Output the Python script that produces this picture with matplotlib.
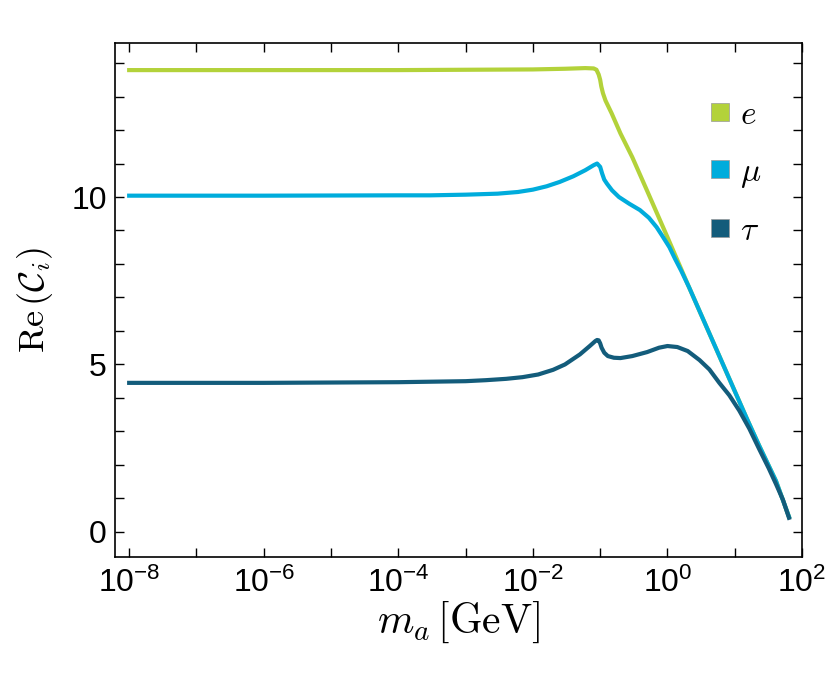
import math
import matplotlib
matplotlib.use('Agg')
import matplotlib.pyplot as plt
from matplotlib.lines import Line2D
from matplotlib.ticker import FixedLocator, FuncFormatter, NullLocator

plt.rcParams['font.family'] = 'Liberation Sans'
plt.rcParams['mathtext.fontset'] = 'custom'
plt.rcParams['mathtext.rm'] = 'Liberation Sans'
plt.rcParams['mathtext.it'] = 'Liberation Sans:italic'

# electron
m_e = [1e-8, 1e-6, 1e-4, 1e-3, 1e-2, 3e-2, 6e-2, 8e-2, 0.088, 0.095, 0.1,
       0.104, 0.11, 0.12, 0.148, 0.2, 0.3, 0.5, 1.0, 2.1, 5.0, 15.0, 23.0,
       41.0, 64.0]
re_e = [13.79, 13.79, 13.79, 13.80, 13.81, 13.83, 13.85, 13.84, 13.80, 13.66,
        13.50, 13.30, 13.10, 12.88, 12.50, 11.90, 11.19, 10.18, 8.80, 7.30,
        5.58, 3.40, 2.58, 1.52, 0.45]

# muon
m_mu = [1e-8, 1e-6, 1e-4, 3e-4, 1e-3, 3e-3, 6e-3, 1e-2, 1.6e-2, 2.5e-2,
        4e-2, 6e-2, 8e-2, 0.09, 0.1, 0.107, 0.115, 0.126, 0.15, 0.19, 0.27,
        0.39, 0.53, 0.69, 0.85, 1.07, 1.3, 1.6, 2.1, 5.0, 15.0, 23.0, 41.0, 64.0]
re_mu = [10.04, 10.04, 10.05, 10.05, 10.07, 10.10, 10.15, 10.22, 10.32, 10.45,
         10.62, 10.80, 10.95, 11.00, 10.90, 10.70, 10.52, 10.40, 10.20, 10.00,
         9.80, 9.61, 9.38, 9.10, 8.82, 8.50, 8.15, 7.80, 7.30, 5.58, 3.40,
         2.58, 1.52, 0.45]

# tau
m_tau = [1e-8, 1e-6, 1e-4, 1e-3, 2e-3, 4e-3, 7e-3, 1.2e-2, 2e-2, 3e-2, 5e-2,
         7e-2, 8.5e-2, 0.09, 0.095, 0.1, 0.105, 0.115, 0.13, 0.16, 0.2, 0.3,
         0.5, 0.75, 1.0, 1.4, 2.0, 3.0, 4.2, 5.9, 8.3, 11.7, 16.5, 23.0, 32.0,
         41.0, 52.0, 64.0]
re_tau = [4.45, 4.45, 4.47, 4.50, 4.53, 4.57, 4.62, 4.70, 4.84, 5.00, 5.30,
          5.55, 5.70, 5.73, 5.72, 5.63, 5.50, 5.35, 5.25, 5.20, 5.19, 5.25,
          5.37, 5.50, 5.55, 5.52, 5.40, 5.13, 4.85, 4.45, 4.08, 3.62, 3.08,
          2.48, 1.90, 1.43, 0.96, 0.42]

c_e = '#b3d23a'
c_mu = '#00acdc'
c_tau = '#135c7b'

fig = plt.figure(figsize=(8.3, 6.8), dpi=100)
ax = fig.add_axes([0.1386, 0.1809, 0.8277, 0.7559])

ax.plot(m_e, re_e, color=c_e, lw=3, solid_joinstyle='round')
ax.plot(m_mu, re_mu, color=c_mu, lw=3, solid_joinstyle='round')
ax.plot(m_tau, re_tau, color=c_tau, lw=3, solid_joinstyle='round')

ax.set_xscale('log')
ax.set_xlim(10**-8.21, 1e2)
ax.set_ylim(-0.75, 14.6)


def xfmt(v, p):
    k = round(math.log10(v))
    return r'$\mathregular{10^{%d}}$' % k if k % 2 == 0 else ''


ax.xaxis.set_major_locator(FixedLocator([10.0**k for k in range(-8, 3)]))
ax.xaxis.set_minor_locator(NullLocator())
ax.xaxis.set_major_formatter(FuncFormatter(xfmt))
ax.yaxis.set_major_locator(FixedLocator(range(0, 15)))
ax.yaxis.set_major_formatter(FuncFormatter(lambda v, p: '%d' % v if v % 5 == 0 else ''))

ax.tick_params(which='both', direction='in', top=True, right=True,
               length=6.5, width=1.0, labelsize=23)
ax.tick_params(axis='y', pad=6)
ax.tick_params(axis='x', pad=8)
for s in ax.spines.values():
    s.set_linewidth(1.2)

ax.set_xlabel(r'$m_a\,[\mathrm{GeV}]$', fontsize=30, math_fontfamily='cm', labelpad=0)
ax.set_ylabel(r'$\mathrm{Re}\,(\mathcal{C}_i)$', fontsize=26, math_fontfamily='cm', labelpad=12)

handles = [Line2D([], [], ls='none', marker='s', markersize=12.5, color=c,
                  markeredgecolor='#9a9a9a', markeredgewidth=0.5)
           for c in (c_e, c_mu, c_tau)]
leg = ax.legend(handles, [r'$e$', r'$\mu$', r'$\tau$'], loc='upper left',
                bbox_to_anchor=(0.818, 0.948), frameon=False, fontsize=24,
                handlelength=0.8, handletextpad=0.2, labelspacing=0.78)
for t in leg.get_texts():
    t.set_math_fontfamily('cm')

fig.savefig('out.png', dpi=100)
